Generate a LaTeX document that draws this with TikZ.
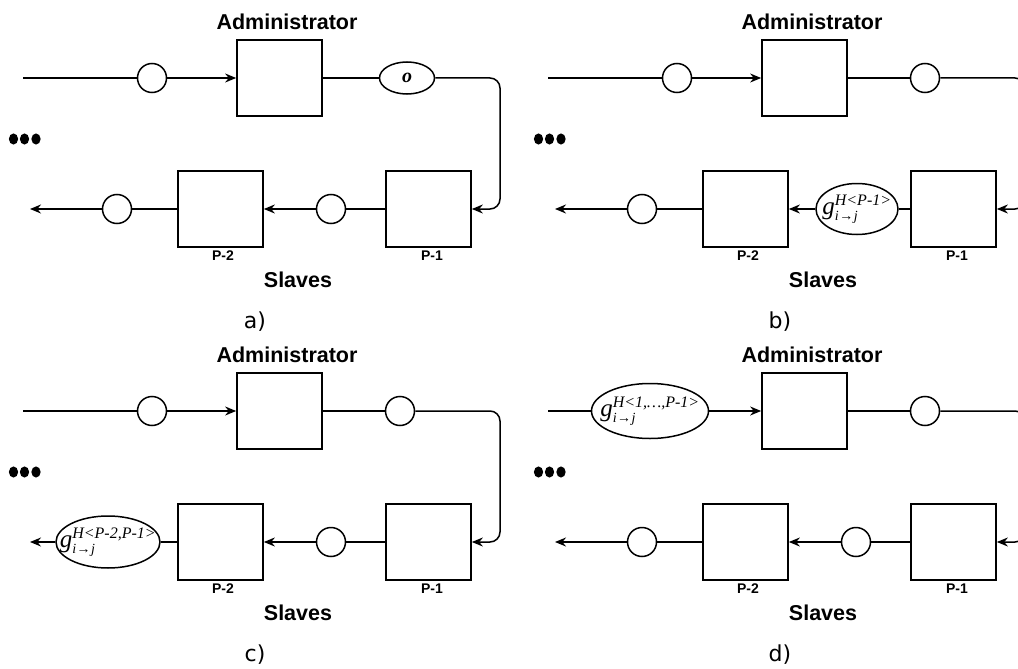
\documentclass[tikz,border=0pt]{standalone}
\usepackage{fontspec}
\setmainfont{Liberation Sans}
\newfontfamily\seriffont{Liberation Serif}
\newfontfamily\capfont{DejaVu Sans}
\usetikzlibrary{arrows.meta,shapes.geometric}

% g with a history superscript and the i->j subscript, in serif italic
\newcommand\gmsg[1]{$\mbox{\seriffont\itshape\fontsize{25}{25}\selectfont g}%
  ^{\mbox{\seriffont\itshape\fontsize{16}{16}\selectfont #1}}%
  _{\mbox{\seriffont\itshape\fontsize{14}{14}\selectfont i\kern0.5pt→\kern0.5pt j}}$}

\tikzset{
  title/.style={font=\bfseries\fontsize{21.5}{24}\selectfont, inner sep=0pt},
  tag/.style={font=\bfseries\fontsize{14}{16}\selectfont, inner sep=0pt},
  caption/.style={font=\capfont\fontsize{22}{24}\selectfont, inner sep=0pt},
  box/.style={draw, line width=1.7pt, minimum width=85pt, minimum height=76pt, inner sep=0pt},
  tok/.style={draw, circle, line width=1.5pt, minimum size=29pt, inner sep=0pt},
  msg/.style={draw, ellipse, line width=1.5pt, inner sep=0pt},
  wire/.style={line width=1.5pt},
  flow/.style={wire, -{Stealth[length=11pt,width=9pt]}},
  gtext/.style={inner sep=0pt}
}

% Common frame of one panel: administrator, two slaves, labels, dots
\newcommand\panelframe[2]{%
  \node[title] (#1title) at (287,22) {Administrator};
  \node[box] (#1adm) at (279.5,78) {};
  \node[box] (#1p1) at (428.5,209) {};
  \node[box] (#1p2) at (220.5,209) {};
  \node[tag] (#1l2) at (223,256) {P-2};
  \node[tag] (#1l1) at (432,256) {P-1};
  \node[title] (#1slaves) at (298,280) {Slaves};
  \node[caption] (#1cap) at (255,322) {#2};
  \foreach \x in {13.5,24.5,36}
    \fill (\x,139) ellipse [x radius=4.6pt, y radius=5.6pt];
  \coordinate (#1in) at (23,78);
  \coordinate (#1c1) at (500,78);
  \coordinate (#1c2) at (500,209);
  \coordinate (#1out) at (30,209);
}

% Ring of connectors through the four token nodes t1..t4
\newcommand\panelwires[1]{%
  \draw[wire] (#1in) -- (#1t1);
  \draw[flow] (#1t1) -- (#1adm);
  \draw[wire] (#1adm) -- (#1t2);
  \draw[flow, rounded corners=10pt] (#1t2) -- (#1c1) -- (#1c2) -- (#1p1.east);
  \draw[wire] (#1p1) -- (#1t3);
  \draw[flow] (#1t3) -- (#1p2);
  \draw[wire] (#1p2) -- (#1t4);
  \draw[flow] (#1t4) -- (#1out);
}

\begin{document}
\begin{tikzpicture}[x=1pt, y=-1pt]
\clip (0,0) rectangle (1018,669);

% a) initial order token
\begin{scope}
  \panelframe{a}{a)}
  \node[tok] (at1) at (152,78) {};
  \node[msg, minimum width=55pt, minimum height=32pt,
        label={[font=\seriffont\bfseries\itshape\fontsize{20}{22}\selectfont]center:o}] (at2) at (407,78) {};
  \node[tok] (at3) at (331,209) {};
  \node[tok] (at4) at (117,209) {};
  \panelwires{a}
\end{scope}

% b) partial sum leaves slave P-1
\begin{scope}[shift={(525,0)}]
  \panelframe{b}{b)}
  \node[tok] (bt1) at (152,78) {};
  \node[tok] (bt2) at (400,78) {};
  \node[msg, minimum width=82pt, minimum height=51pt,
        label={[gtext]center:\gmsg{H<P-1>}}] (bt3) at (332,209) {};
  \node[tok] (bt4) at (117,209) {};
  \panelwires{b}
\end{scope}

% c) partial sum leaves slave P-2
\begin{scope}[shift={(0,333)}]
  \panelframe{c}{c)}
  \node[tok] (ct1) at (152,78) {};
  \node[tok] (ct2) at (400,78) {};
  \node[tok] (ct3) at (331,209) {};
  \node[msg, minimum width=104pt, minimum height=52pt,
        label={[gtext]center:\gmsg{H<P-2,P-1>}}] (ct4) at (108,209) {};
  \panelwires{c}
\end{scope}

% d) complete sum reaches the administrator
\begin{scope}[shift={(525,333)}]
  \panelframe{d}{d)}
  \node[msg, minimum width=117pt, minimum height=55pt,
        label={[gtext]center:\gmsg{H<1,\ldots,P-1>}}] (dt1) at (125,78) {};
  \node[tok] (dt2) at (400,78) {};
  \node[tok] (dt3) at (331,209) {};
  \node[tok] (dt4) at (117,209) {};
  \panelwires{d}
\end{scope}
\end{tikzpicture}
\end{document}
